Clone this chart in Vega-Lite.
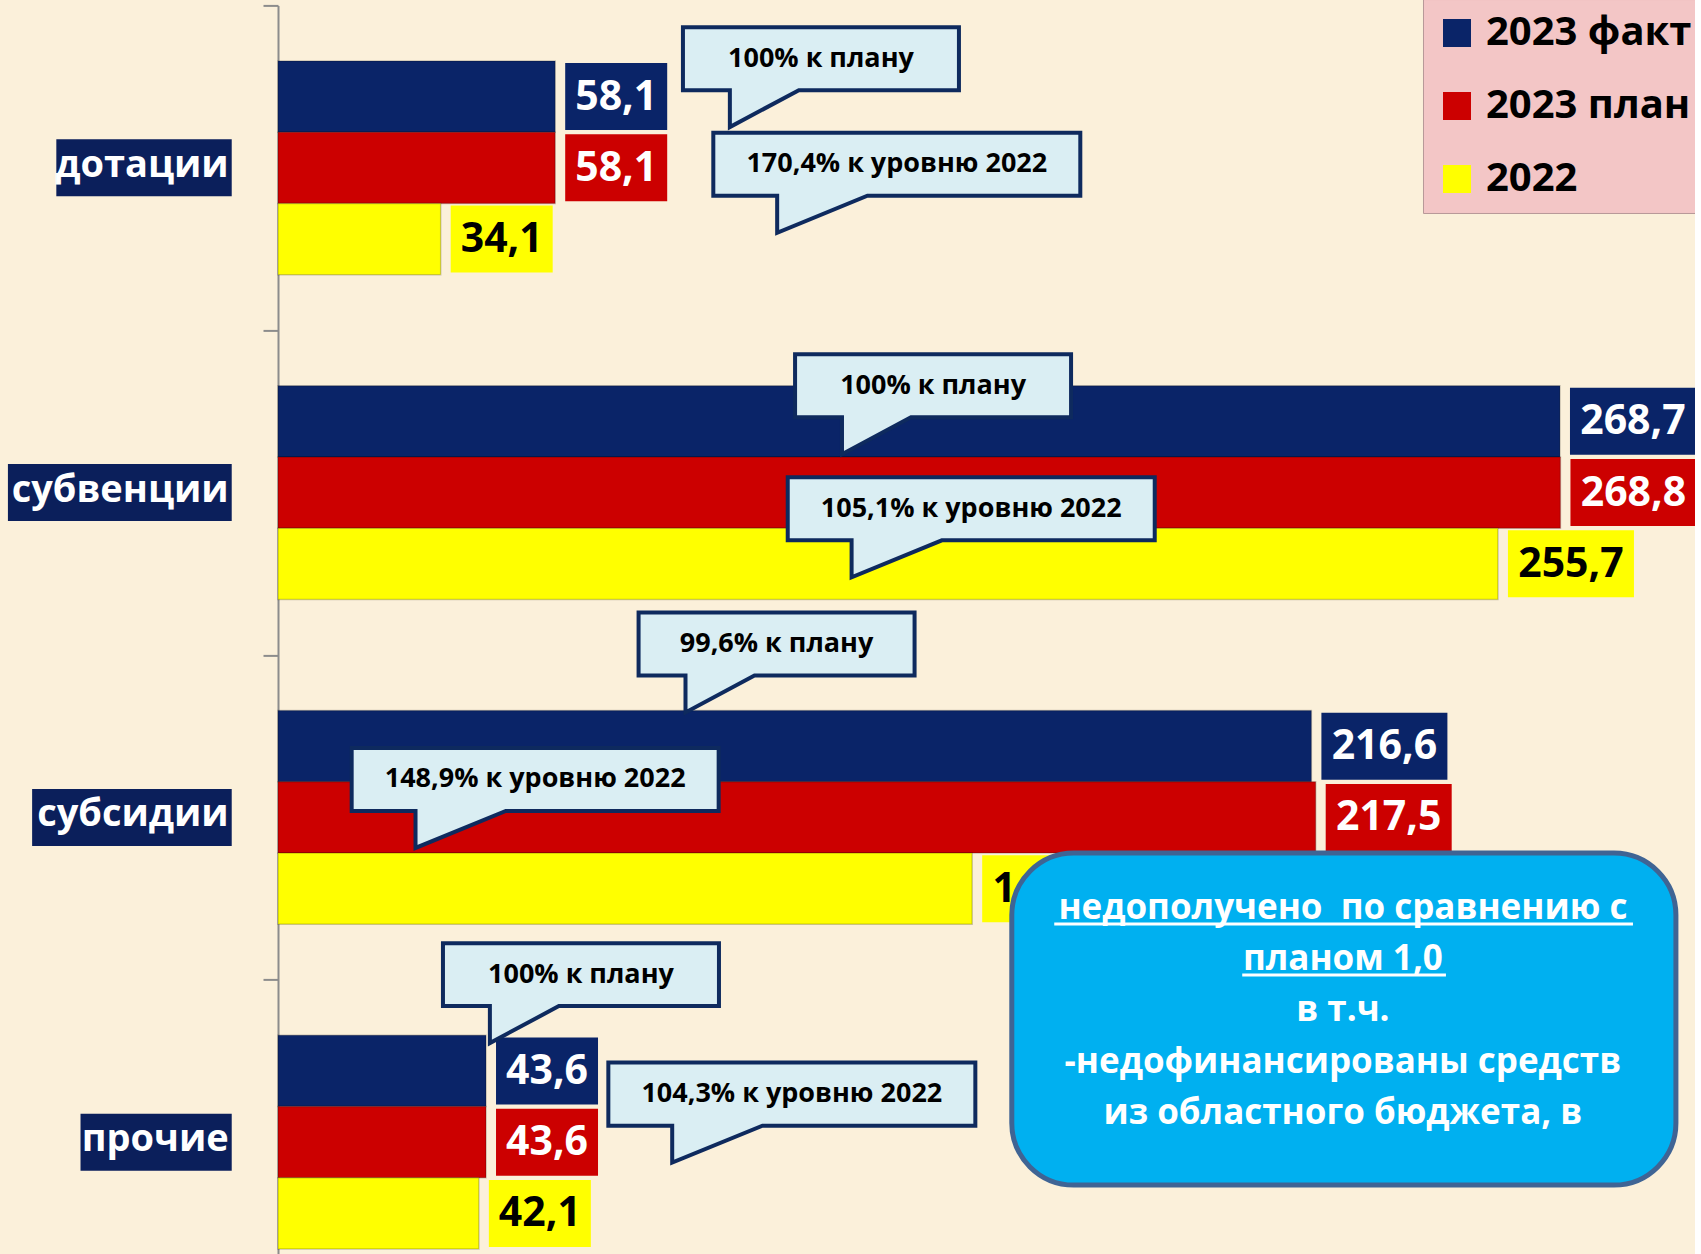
{
  "$schema": "https://vega.github.io/schema/vega-lite/v6.json",
  "width": 1417,
  "height": 1299.2,
  "autosize": {"type": "none"},
  "padding": {"left": 278, "top": 5.4, "right": 0, "bottom": 0},
  "background": "#FBF0DA",
  "config": {
    "font": "Open Sans",
    "view": {"stroke": null},
    "locale": {"number": {"decimal": ",", "thousands": " ", "grouping": [3], "currency": ["", ""]}}
  },
  "datasets": {
    "bars": [
      {"cat": "дотации", "series": "2023 факт", "value": 58.1},
      {"cat": "дотации", "series": "2023 план", "value": 58.1},
      {"cat": "дотации", "series": "2022", "value": 34.1},
      {"cat": "субвенции", "series": "2023 факт", "value": 268.7},
      {"cat": "субвенции", "series": "2023 план", "value": 268.8},
      {"cat": "субвенции", "series": "2022", "value": 255.7},
      {"cat": "субсидии", "series": "2023 факт", "value": 216.6},
      {"cat": "субсидии", "series": "2023 план", "value": 217.5},
      {"cat": "субсидии", "series": "2022", "value": 145.5},
      {"cat": "прочие", "series": "2023 факт", "value": 43.6},
      {"cat": "прочие", "series": "2023 план", "value": 43.6},
      {"cat": "прочие", "series": "2022", "value": 42.1}
    ],
    "cats": [
      {"cat": "дотации"},
      {"cat": "субвенции"},
      {"cat": "субсидии"},
      {"cat": "прочие"}
    ],
    "bubbles": [
      {"txt": "100% к плану", "kind": "plan", "bx": 113.8, "by": 0.164},
      {"txt": "170,4% к уровню 2022", "kind": "level", "bx": 129.7, "by": 0.489},
      {"txt": "100% к плану", "kind": "plan", "bx": 137.3, "by": 1.171},
      {"txt": "105,1% к уровню 2022", "kind": "level", "bx": 145.3, "by": 1.55},
      {"txt": "99,6% к плану", "kind": "plan", "bx": 104.5, "by": 1.966},
      {"txt": "148,9% к уровню 2022", "kind": "level", "bx": 53.9, "by": 2.383},
      {"txt": "100% к плану", "kind": "plan", "bx": 63.5, "by": 2.984},
      {"txt": "104,3% к уровню 2022", "kind": "level", "bx": 107.7, "by": 3.352}
    ],
    "box": [
      {"x0": 153.8, "x1": 293.0, "y0": 2.61, "y1": 3.632}
    ],
    "note": [
      {"t": "недополучено\u00a0 по сравнению с", "ty": 2.779},
      {"t": "планом 1,0", "ty": 2.936},
      {"t": "в т.ч.", "ty": 3.093},
      {"t": "-недофинансированы средств", "ty": 3.253},
      {"t": "из областного бюджета, в", "ty": 3.41}
    ],
    "ul": [
      {"u0": 162.7, "u1": 284.0, "uy": 2.828},
      {"u0": 202.1, "u1": 244.8, "uy": 2.985}
    ]
  },
  "resolve": {"scale": {"y": "independent"}},
  "layer": [
    {
      "layer": [
        {
          "data": {"name": "bars"},
          "mark": {"type": "bar", "stroke": "#00000033", "strokeWidth": 1.5},
          "encoding": {
            "y": {
              "field": "cat", "type": "nominal",
              "scale": {"domain": ["дотации", "субвенции", "субсидии", "прочие"], "paddingInner": 0.342, "paddingOuter": 0.171},
              "axis": {"labels": false, "title": null, "tickOffset": -162.4, "tickSize": 15, "domainColor": "#8C8C8C", "tickColor": "#8C8C8C", "domainWidth": 2, "tickWidth": 2}
            },
            "yOffset": {"field": "series", "type": "nominal", "scale": {"domain": ["2023 факт", "2023 план", "2022"]}},
            "x": {"field": "value", "type": "quantitative", "scale": {"domain": [0, 297], "nice": false, "zero": true}, "axis": null},
            "color": {
              "field": "series", "type": "nominal",
              "scale": {"domain": ["2023 факт", "2023 план", "2022"], "range": ["#0A2468", "#CC0000", "#FFFF00"]},
              "legend": {
                "orient": "none", "legendX": 1145, "legendY": -6.4, "direction": "vertical",
                "title": null, "padding": 14, "fillColor": "#F3C6C6", "strokeColor": "#B89898",
                "symbolType": "square", "symbolSize": 784, "symbolStrokeWidth": 0,
                "labelFont": "Open Sans", "labelFontWeight": "bold", "labelFontSize": 40, "labelColor": "#000000",
                "labelOffset": 9, "rowPadding": 33, "labelLimit": 400
              }
            }
          }
        },
        {
          "data": {"name": "cats"},
          "mark": {"type": "bar", "color": "#0B1F5B", "height": 57, "xOffset": {"expr": "-(24.2*length(datum.cat)+6)"}, "x2Offset": 0},
          "encoding": {
            "y": {"field": "cat", "type": "nominal"},
            "x": {"datum": -9.7, "type": "quantitative", "scale": {"domain": [0, 297], "nice": false}},
            "x2": {"datum": -9.7}
          }
        },
        {
          "data": {"name": "cats"},
          "mark": {"type": "text", "align": "right", "baseline": "middle", "dx": -3, "dy": -2, "font": "Open Sans", "fontWeight": "bold", "fontSize": 38, "color": "#FFFFFF"},
          "encoding": {
            "y": {"field": "cat", "type": "nominal"},
            "x": {"datum": -9.7, "type": "quantitative", "scale": {"domain": [0, 297], "nice": false}},
            "text": {"field": "cat", "type": "nominal"}
          }
        },
        {
          "data": {"name": "bars"},
          "transform": [{"filter": "datum.value < 100"}],
          "mark": {"type": "bar", "xOffset": 10, "x2Offset": 112, "height": 67},
          "encoding": {
            "y": {"field": "cat", "type": "nominal"},
            "yOffset": {"field": "series", "type": "nominal", "scale": {"domain": ["2023 факт", "2023 план", "2022"]}},
            "x": {"field": "value", "type": "quantitative", "scale": {"domain": [0, 297], "nice": false}},
            "x2": {"field": "value"},
            "color": {"field": "series", "type": "nominal"}
          }
        },
        {
          "data": {"name": "bars"},
          "transform": [{"filter": "datum.value >= 100"}],
          "mark": {"type": "bar", "xOffset": 10, "x2Offset": 136, "height": 67},
          "encoding": {
            "y": {"field": "cat", "type": "nominal"},
            "yOffset": {"field": "series", "type": "nominal", "scale": {"domain": ["2023 факт", "2023 план", "2022"]}},
            "x": {"field": "value", "type": "quantitative", "scale": {"domain": [0, 297], "nice": false}},
            "x2": {"field": "value"},
            "color": {"field": "series", "type": "nominal"}
          }
        },
        {
          "data": {"name": "bars"},
          "transform": [{"filter": "datum.value < 100"}],
          "mark": {"type": "text", "align": "center", "baseline": "middle", "dx": 61, "dy": 1, "font": "Open Sans", "fontWeight": "bold", "fontSize": 41},
          "encoding": {
            "y": {"field": "cat", "type": "nominal"},
            "yOffset": {"field": "series", "type": "nominal", "scale": {"domain": ["2023 факт", "2023 план", "2022"]}},
            "x": {"field": "value", "type": "quantitative", "scale": {"domain": [0, 297], "nice": false}},
            "text": {"field": "value", "type": "quantitative", "format": ".1f"},
            "color": {"condition": {"test": "datum.series === '2022'", "value": "#000000"}, "value": "#FFFFFF"}
          }
        },
        {
          "data": {"name": "bars"},
          "transform": [{"filter": "datum.value >= 100"}],
          "mark": {"type": "text", "align": "center", "baseline": "middle", "dx": 73, "dy": 1, "font": "Open Sans", "fontWeight": "bold", "fontSize": 41},
          "encoding": {
            "y": {"field": "cat", "type": "nominal"},
            "yOffset": {"field": "series", "type": "nominal", "scale": {"domain": ["2023 факт", "2023 план", "2022"]}},
            "x": {"field": "value", "type": "quantitative", "scale": {"domain": [0, 297], "nice": false}},
            "text": {"field": "value", "type": "quantitative", "format": ".1f"},
            "color": {"condition": {"test": "datum.series === '2022'", "value": "#000000"}, "value": "#FFFFFF"}
          }
        }
      ]
    },
    {
      "layer": [
        {
          "data": {"name": "bubbles"},
          "transform": [{"filter": "datum.kind === 'plan'"}],
          "mark": {"type": "point", "filled": true, "fill": "#DAEEF3", "stroke": "#0E2A5E", "strokeWidth": 4, "opacity": 1, "strokeOpacity": 1, "fillOpacity": 1, "size": 76176,
            "shape": "M-1,-0.228L1,-0.228L1,0.228L-0.16,0.228L-0.66,0.496L-0.66,0.228L-1,0.228Z"},
          "encoding": {
            "x": {"field": "bx", "type": "quantitative", "scale": {"domain": [0, 297], "nice": false}},
            "y": {"field": "by", "type": "quantitative", "scale": {"domain": [0, 4], "reverse": true, "nice": false, "zero": false}, "axis": null}
          }
        },
        {
          "data": {"name": "bubbles"},
          "transform": [{"filter": "datum.kind === 'level'"}],
          "mark": {"type": "point", "filled": true, "fill": "#DAEEF3", "stroke": "#0E2A5E", "strokeWidth": 4, "opacity": 1, "strokeOpacity": 1, "fillOpacity": 1, "size": 134689,
            "shape": "M-1,-0.1717L1,-0.1717L1,0.1717L-0.16,0.1717L-0.652,0.3733L-0.652,0.1717L-1,0.1717Z"},
          "encoding": {
            "x": {"field": "bx", "type": "quantitative", "scale": {"domain": [0, 297], "nice": false}},
            "y": {"field": "by", "type": "quantitative"}
          }
        },
        {
          "data": {"name": "bubbles"},
          "mark": {"type": "text", "align": "center", "baseline": "middle", "font": "Open Sans", "fontWeight": "bold", "fontSize": 27, "color": "#000000"},
          "encoding": {
            "x": {"field": "bx", "type": "quantitative", "scale": {"domain": [0, 297], "nice": false}},
            "y": {"field": "by", "type": "quantitative"},
            "text": {"field": "txt", "type": "nominal"}
          }
        },
        {
          "data": {"name": "box"},
          "mark": {"type": "rect", "fill": "#00B0F0", "stroke": "#3F6494", "strokeWidth": 5, "cornerRadius": 62},
          "encoding": {
            "x": {"field": "x0", "type": "quantitative", "scale": {"domain": [0, 297], "nice": false}},
            "x2": {"field": "x1"},
            "y": {"field": "y0", "type": "quantitative"},
            "y2": {"field": "y1"}
          }
        },
        {
          "data": {"name": "note"},
          "mark": {"type": "text", "align": "center", "baseline": "middle", "font": "Open Sans", "fontWeight": "bold", "fontSize": 35, "color": "#FFFFFF"},
          "encoding": {
            "x": {"datum": 223.2, "type": "quantitative", "scale": {"domain": [0, 297], "nice": false}},
            "y": {"field": "ty", "type": "quantitative"},
            "text": {"field": "t", "type": "nominal"}
          }
        },
        {
          "data": {"name": "ul"},
          "mark": {"type": "rule", "color": "#FFFFFF", "strokeWidth": 3},
          "encoding": {
            "x": {"field": "u0", "type": "quantitative", "scale": {"domain": [0, 297], "nice": false}},
            "x2": {"field": "u1"},
            "y": {"field": "uy", "type": "quantitative"}
          }
        }
      ]
    }
  ]
}
